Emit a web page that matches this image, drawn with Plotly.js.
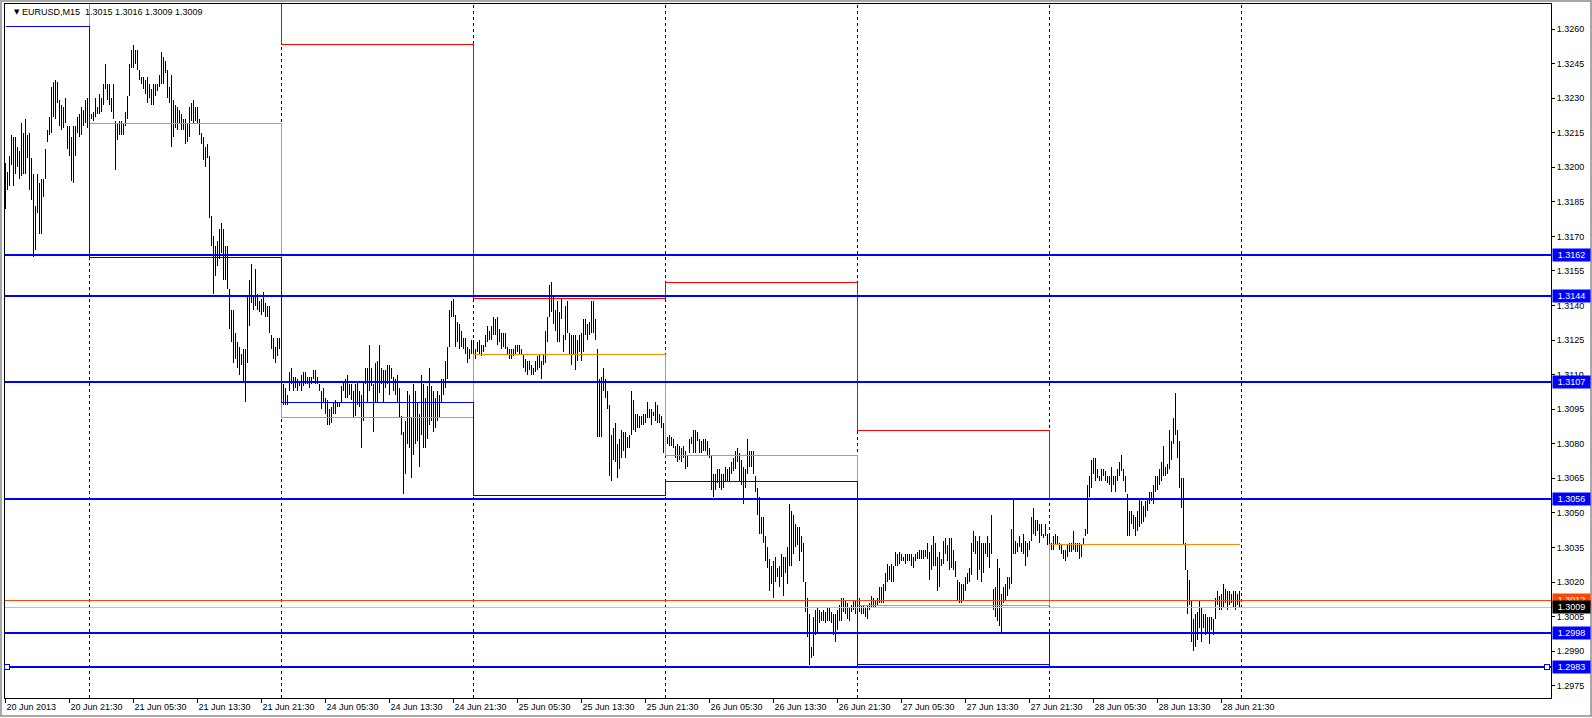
<!DOCTYPE html>
<html>
<head>
<meta charset="utf-8">
<script src="https://cdn.plot.ly/plotly-3.0.1.min.js"></script>
<style>
html,body{margin:0;padding:0;background:#fff;overflow:hidden;}
#chart{width:1592px;height:718px;}
#chart .scatterlayer path.js-line{shape-rendering:crispEdges;}
#chart .shapelayer path{shape-rendering:crispEdges;}
</style>
</head>
<body>
<div id="chart"></div>
<script>
// ---- data (EURUSD M15, one entry per bar) ----
const highs = [
1.3202,1.3198,1.3205,1.3214,1.3213,1.3213,1.3209,1.3207,1.3219,1.3215,
1.3221,1.3214,1.3215,1.3204,1.3197,1.3183,1.3197,1.3193,1.3195,1.3195,
1.3208,1.3216,1.3222,1.3235,1.3237,1.3238,1.3237,1.3229,1.3227,1.3226,
1.3230,1.3218,1.3218,1.3213,1.3218,1.3218,1.3222,1.3223,1.3226,1.3225,
1.3229,1.3230,1.3223,1.3223,1.3224,1.3230,1.3226,1.3232,1.3230,1.3236,
1.3245,1.3236,1.3236,1.3230,1.3236,1.3220,1.3219,1.3220,1.3220,1.3219,
1.3224,1.3231,1.3245,1.3251,1.3253,1.3251,1.3251,1.3242,1.3239,1.3239,
1.3238,1.3239,1.3236,1.3234,1.3236,1.3236,1.3236,1.3240,1.3250,1.3248,
1.3246,1.3242,1.3235,1.3240,1.3229,1.3227,1.3226,1.3225,1.3223,1.3221,
1.3221,1.3219,1.3226,1.3228,1.3229,1.3226,1.3226,1.3221,1.3215,1.3213,
1.3209,1.3210,1.3205,1.3179,1.3170,1.3166,1.3168,1.3173,1.3176,1.3173,
1.3166,1.3166,1.3147,1.3138,1.3138,1.3128,1.3124,1.3122,1.3119,1.3121,
1.3121,1.3144,1.3151,1.3158,1.3144,1.3156,1.3145,1.3142,1.3143,1.3146,
1.3141,1.3140,1.3140,1.3127,1.3126,1.3122,1.3126,1.3126,1.3124,1.3106,
1.3104,1.3101,1.3111,1.3113,1.3109,1.3109,1.3108,1.3107,1.3110,1.3111,
1.3111,1.3109,1.3109,1.3109,1.3112,1.3112,1.3109,1.3106,1.3103,1.3104,
1.3100,1.3099,1.3095,1.3096,1.3098,1.3099,1.3098,1.3098,1.3105,1.3107,
1.3108,1.3110,1.3106,1.3106,1.3103,1.3106,1.3107,1.3103,1.3101,1.3107,
1.3113,1.3113,1.3123,1.3113,1.3106,1.3115,1.3116,1.3123,1.3113,1.3112,
1.3112,1.3114,1.3114,1.3113,1.3109,1.3108,1.3110,1.3104,1.3092,1.3085,
1.3090,1.3103,1.3101,1.3091,1.3106,1.3103,1.3098,1.3093,1.3110,1.3106,
1.3100,1.3105,1.3113,1.3105,1.3103,1.3100,1.3103,1.3101,1.3108,1.3108,
1.3116,1.3122,1.3138,1.3142,1.3143,1.3136,1.3133,1.3132,1.3129,1.3126,
1.3126,1.3122,1.3121,1.3125,1.3125,1.3121,1.3124,1.3125,1.3123,1.3123,
1.3127,1.3131,1.3129,1.3131,1.3135,1.3134,1.3135,1.3130,1.3128,1.3128,
1.3128,1.3122,1.3121,1.3121,1.3121,1.3123,1.3123,1.3123,1.3121,1.3119,
1.3117,1.3116,1.3116,1.3114,1.3113,1.3116,1.3118,1.3119,1.3116,1.3119,
1.3129,1.3135,1.3149,1.3150,1.3144,1.3138,1.3142,1.3137,1.3143,1.3127,
1.3140,1.3142,1.3128,1.3127,1.3127,1.3127,1.3125,1.3127,1.3128,1.3134,
1.3134,1.3132,1.3133,1.3142,1.3142,1.3134,1.3121,1.3108,1.3109,1.3113,
1.3108,1.3103,1.3097,1.3084,1.3087,1.3089,1.3080,1.3082,1.3086,1.3085,
1.3085,1.3083,1.3084,1.3103,1.3099,1.3093,1.3093,1.3092,1.3092,1.3093,
1.3093,1.3098,1.3095,1.3095,1.3094,1.3098,1.3097,1.3093,1.3092,1.3089,
1.3086,1.3083,1.3084,1.3083,1.3082,1.3079,1.3080,1.3079,1.3078,1.3079,
1.3077,1.3075,1.3082,1.3083,1.3086,1.3086,1.3085,1.3082,1.3081,1.3082,
1.3082,1.3081,1.3078,1.3075,1.3067,1.3067,1.3069,1.3069,1.3067,1.3067,
1.3070,1.3069,1.3070,1.3072,1.3074,1.3077,1.3078,1.3076,1.3073,1.3070,
1.3069,1.3082,1.3077,1.3077,1.3077,1.3066,1.3061,1.3057,1.3048,1.3048,
1.3040,1.3035,1.3030,1.3027,1.3029,1.3031,1.3026,1.3027,1.3032,1.3031,
1.3031,1.3035,1.3054,1.3051,1.3049,1.3045,1.3044,1.3044,1.3040,1.3037,
1.3020,1.3013,1.3006,1.2992,1.3005,1.3008,1.3009,1.3008,1.3007,1.3008,
1.3007,1.3009,1.3009,1.3007,1.3006,1.3006,1.3008,1.3010,1.3013,1.3013,
1.3012,1.3011,1.3009,1.3010,1.3012,1.3012,1.3012,1.3013,1.3010,1.3010,
1.3009,1.3010,1.3011,1.3014,1.3013,1.3012,1.3013,1.3018,1.3018,1.3019,
1.3024,1.3028,1.3027,1.3028,1.3027,1.3033,1.3032,1.3033,1.3032,1.3031,
1.3032,1.3032,1.3032,1.3032,1.3031,1.3032,1.3033,1.3034,1.3034,1.3034,
1.3034,1.3037,1.3033,1.3036,1.3040,1.3037,1.3031,1.3033,1.3030,1.3038,
1.3039,1.3036,1.3039,1.3039,1.3034,1.3029,1.3021,1.3020,1.3019,1.3019,
1.3022,1.3024,1.3026,1.3037,1.3042,1.3040,1.3038,1.3040,1.3037,1.3037,
1.3037,1.3040,1.3037,1.3049,1.3017,1.3018,1.3030,1.3026,1.3015,1.3018,
1.3019,1.3022,1.3022,1.3043,1.3056,1.3038,1.3037,1.3040,1.3037,1.3041,
1.3038,1.3037,1.3038,1.3048,1.3052,1.3047,1.3047,1.3045,1.3045,1.3041,
1.3045,1.3041,1.3040,1.3037,1.3040,1.3041,1.3040,1.3037,1.3036,1.3034,
1.3034,1.3036,1.3037,1.3037,1.3042,1.3037,1.3037,1.3037,1.3036,1.3039,
1.3043,1.3062,1.3066,1.3073,1.3074,1.3074,1.3069,1.3066,1.3069,1.3069,
1.3068,1.3066,1.3066,1.3070,1.3066,1.3066,1.3069,1.3072,1.3075,1.3069,
1.3066,1.3058,1.3051,1.3051,1.3049,1.3048,1.3051,1.3056,1.3055,1.3053,
1.3055,1.3056,1.3059,1.3059,1.3062,1.3066,1.3066,1.3069,1.3072,1.3079,
1.3070,1.3071,1.3086,1.3081,1.3091,1.3102,1.3086,1.3081,1.3065,1.3065,
1.3037,1.3025,1.3021,1.3012,1.3004,1.3006,1.3007,1.3012,1.3009,1.3006,
1.3006,1.3005,1.3005,1.3005,1.3004,1.3013,1.3016,1.3014,1.3015,1.3019,
1.3017,1.3016,1.3016,1.3015,1.3016,1.3016,1.3015,1.3016
];
const lows = [
1.3182,1.3190,1.3192,1.3201,1.3192,1.3197,1.3200,1.3195,1.3196,1.3197,
1.3197,1.3204,1.3190,1.3186,1.3161,1.3164,1.3180,1.3171,1.3171,1.3187,
1.3195,1.3211,1.3214,1.3215,1.3222,1.3221,1.3228,1.3218,1.3216,1.3217,
1.3219,1.3208,1.3205,1.3194,1.3193,1.3205,1.3215,1.3213,1.3214,1.3218,
1.3219,1.3217,1.3219,1.3221,1.3220,1.3222,1.3223,1.3223,1.3224,1.3227,
1.3234,1.3229,1.3227,1.3224,1.3221,1.3199,1.3212,1.3214,1.3214,1.3214,
1.3218,1.3221,1.3231,1.3243,1.3243,1.3245,1.3242,1.3238,1.3236,1.3234,
1.3232,1.3228,1.3230,1.3227,1.3227,1.3231,1.3233,1.3235,1.3236,1.3236,
1.3241,1.3230,1.3228,1.3209,1.3213,1.3217,1.3216,1.3219,1.3216,1.3216,
1.3210,1.3211,1.3213,1.3220,1.3219,1.3220,1.3219,1.3214,1.3210,1.3203,
1.3200,1.3204,1.3178,1.3166,1.3145,1.3153,1.3157,1.3160,1.3163,1.3151,
1.3151,1.3147,1.3130,1.3124,1.3115,1.3117,1.3113,1.3110,1.3114,1.3107,
1.3098,1.3115,1.3131,1.3141,1.3138,1.3140,1.3138,1.3137,1.3136,1.3137,
1.3135,1.3135,1.3128,1.3121,1.3117,1.3115,1.3118,1.3121,1.3112,1.3097,
1.3097,1.3097,1.3103,1.3106,1.3103,1.3104,1.3103,1.3105,1.3103,1.3105,
1.3106,1.3106,1.3104,1.3106,1.3108,1.3106,1.3106,1.3103,1.3095,1.3098,
1.3093,1.3088,1.3088,1.3089,1.3093,1.3093,1.3096,1.3096,1.3098,1.3103,
1.3100,1.3100,1.3101,1.3099,1.3091,1.3092,1.3097,1.3096,1.3078,1.3090,
1.3106,1.3098,1.3103,1.3105,1.3085,1.3098,1.3098,1.3102,1.3106,1.3098,
1.3104,1.3106,1.3101,1.3108,1.3103,1.3101,1.3098,1.3091,1.3084,1.3058,
1.3067,1.3080,1.3078,1.3065,1.3075,1.3080,1.3081,1.3070,1.3084,1.3078,
1.3078,1.3082,1.3088,1.3090,1.3085,1.3087,1.3090,1.3091,1.3098,1.3101,
1.3104,1.3108,1.3122,1.3135,1.3135,1.3122,1.3124,1.3121,1.3122,1.3121,
1.3119,1.3115,1.3117,1.3119,1.3119,1.3117,1.3120,1.3119,1.3118,1.3120,
1.3122,1.3124,1.3125,1.3125,1.3127,1.3127,1.3123,1.3124,1.3121,1.3122,
1.3121,1.3119,1.3117,1.3117,1.3118,1.3119,1.3120,1.3119,1.3119,1.3113,
1.3111,1.3110,1.3112,1.3110,1.3110,1.3111,1.3112,1.3113,1.3108,1.3114,
1.3115,1.3124,1.3135,1.3137,1.3132,1.3129,1.3124,1.3124,1.3134,1.3120,
1.3125,1.3128,1.3119,1.3114,1.3119,1.3112,1.3116,1.3120,1.3116,1.3120,
1.3127,1.3125,1.3127,1.3128,1.3128,1.3125,1.3083,1.3083,1.3083,1.3103,
1.3100,1.3095,1.3066,1.3064,1.3073,1.3072,1.3065,1.3069,1.3074,1.3077,
1.3074,1.3078,1.3078,1.3084,1.3086,1.3085,1.3087,1.3087,1.3088,1.3088,
1.3089,1.3091,1.3091,1.3088,1.3092,1.3090,1.3089,1.3089,1.3087,1.3076,
1.3080,1.3080,1.3079,1.3079,1.3078,1.3074,1.3072,1.3073,1.3072,1.3074,
1.3069,1.3070,1.3076,1.3080,1.3076,1.3076,1.3081,1.3076,1.3076,1.3077,
1.3077,1.3075,1.3074,1.3060,1.3057,1.3060,1.3063,1.3061,1.3060,1.3061,
1.3064,1.3064,1.3064,1.3067,1.3068,1.3069,1.3072,1.3064,1.3062,1.3054,
1.3061,1.3067,1.3070,1.3070,1.3067,1.3059,1.3049,1.3041,1.3041,1.3037,
1.3029,1.3026,1.3016,1.3019,1.3013,1.3020,1.3022,1.3018,1.3022,1.3014,
1.3024,1.3019,1.3027,1.3027,1.3032,1.3035,1.3036,1.3029,1.3033,1.3020,
1.3007,1.2996,1.2984,1.2987,1.2988,1.2997,1.2998,1.3002,1.3003,1.3003,
1.3002,1.3003,1.3003,1.3002,1.2997,1.2994,1.2999,1.3003,1.3003,1.3007,
1.3006,1.3004,1.3003,1.3007,1.3008,1.3006,1.3007,1.3007,1.3006,1.3006,
1.3005,1.3004,1.3008,1.3009,1.3009,1.3009,1.3010,1.3011,1.3011,1.3011,
1.3016,1.3020,1.3021,1.3020,1.3020,1.3027,1.3027,1.3028,1.3029,1.3029,
1.3028,1.3029,1.3029,1.3027,1.3026,1.3029,1.3030,1.3030,1.3030,1.3030,
1.3031,1.3030,1.3021,1.3025,1.3027,1.3027,1.3016,1.3018,1.3027,1.3028,
1.3032,1.3029,1.3025,1.3026,1.3025,1.3022,1.3012,1.3011,1.3011,1.3012,
1.3016,1.3019,1.3020,1.3023,1.3033,1.3032,1.3021,1.3025,1.3020,1.3024,
1.3032,1.3031,1.3026,1.3032,1.3008,1.3005,1.3003,1.3001,1.2998,1.3011,
1.3012,1.3014,1.3017,1.3019,1.3032,1.3032,1.3033,1.3035,1.3033,1.3032,
1.3027,1.3031,1.3034,1.3038,1.3041,1.3040,1.3042,1.3037,1.3040,1.3039,
1.3040,1.3036,1.3035,1.3034,1.3034,1.3036,1.3036,1.3034,1.3032,1.3030,
1.3029,1.3031,1.3033,1.3033,1.3034,1.3033,1.3033,1.3030,1.3031,1.3036,
1.3040,1.3041,1.3057,1.3061,1.3067,1.3064,1.3065,1.3064,1.3064,1.3066,
1.3064,1.3063,1.3062,1.3059,1.3062,1.3059,1.3064,1.3066,1.3068,1.3064,
1.3059,1.3040,1.3040,1.3045,1.3043,1.3040,1.3042,1.3044,1.3045,1.3046,
1.3048,1.3051,1.3054,1.3055,1.3054,1.3059,1.3060,1.3062,1.3064,1.3066,
1.3066,1.3067,1.3069,1.3073,1.3080,1.3084,1.3074,1.3061,1.3052,1.3036,
1.3025,1.3006,1.3010,1.2994,1.2990,1.2992,1.2995,1.3000,1.2994,1.3000,
1.2997,1.2998,1.2993,1.2999,1.2997,1.3004,1.3010,1.3008,1.3008,1.3009,
1.3011,1.3008,1.3010,1.3011,1.3009,1.3008,1.3010,1.3009
];
const lastOHLC = [1.3015, 1.3016, 1.3009, 1.3009];

// daily reference lines (value valid from the first bar of each day)
const dayStart  = [0, 42, 138, 234, 330, 426, 522];
const prevHigh  = [null, 1.3290, 1.32534, 1.31431, 1.31501, 1.30858, 1.30560];
const prevClose = [1.3275, 1.32191, 1.30912, 1.31188, 1.30751, 1.30100, 1.30361];
const prevLow   = [1.32613, 1.31609, 1.30980, 1.30576, 1.30637, 1.29840, 1.29982];

// horizontal levels and price lines
const levels   = [1.3162, 1.3144, 1.3107, 1.3056, 1.2998, 1.2983];
const askPrice = 1.3012;
const bidPrice = 1.3009;

// period separators (bar index of each day start)
const separators = [42, 138, 234, 330, 426, 522, 618];

// axis ticks
const xTickIdx  = [0,32,64,96,128,160,192,224,256,288,320,352,384,416,448,480,512,544,576,608];
const xTickText = ["20 Jun 2013","20 Jun 21:30","21 Jun 05:30","21 Jun 13:30","21 Jun 21:30",
  "24 Jun 05:30","24 Jun 13:30","24 Jun 21:30","25 Jun 05:30","25 Jun 13:30","25 Jun 21:30",
  "26 Jun 05:30","26 Jun 13:30","26 Jun 21:30","27 Jun 05:30","27 Jun 13:30","27 Jun 21:30",
  "28 Jun 05:30","28 Jun 13:30","28 Jun 21:30"];
const yTicks = [1.2975,1.2990,1.3005,1.3020,1.3035,1.3050,1.3065,1.3080,1.3095,1.3110,
  1.3125,1.3140,1.3155,1.3170,1.3185,1.3200,1.3215,1.3230,1.3245,1.3260];

// ---- build traces ----
const FONT = "Liberation Sans, Arial, sans-serif";
const bx = [], by = [];
for (let i = 0; i < highs.length; i++) {
  bx.push(i, i, null);
  by.push(lows[i], highs[i], null);
}
const lastBar = highs.length - 1;
function stepTrace(vals, color) {
  return {
    type: 'scatter', mode: 'lines',
    x: dayStart.concat([lastBar]),
    y: vals.concat([vals[vals.length - 1]]),
    line: {shape: 'hv', color: color, width: 1},
    hoverinfo: 'skip', connectgaps: false
  };
}
const traces = [
  {type: 'scatter', mode: 'lines', x: bx, y: by,
   line: {color: '#000000', width: 1}, hoverinfo: 'skip'},
  stepTrace(prevHigh, '#FF0000'),
  stepTrace(prevClose, '#FF8C00'),
  stepTrace(prevLow, '#0000FF')
];

const shapes = [];
separators.forEach(s => shapes.push({
  type: 'line', xref: 'x', yref: 'paper', x0: s, x1: s, y0: 0, y1: 1, layer: 'below',
  line: {color: '#000000', width: 1, dash: '3px,3px'}
}));
shapes.push({type: 'line', xref: 'paper', yref: 'y', x0: 0, x1: 1, y0: askPrice, y1: askPrice,
  layer: 'above', line: {color: '#FF4500', width: 1}});
shapes.push({type: 'line', xref: 'paper', yref: 'y', x0: 0, x1: 1, y0: bidPrice, y1: bidPrice,
  layer: 'above', line: {color: '#C0C0C0', width: 1}});
levels.forEach(v => shapes.push({
  type: 'line', xref: 'paper', yref: 'y', x0: 0, x1: 1, y0: v, y1: v, layer: 'above',
  line: {color: '#0000FF', width: 2}
}));
// selection handles on the last level
[0.001, 0.9974].forEach(ax => shapes.push({
  type: 'rect', xref: 'paper', yref: 'y', xsizemode: 'pixel', ysizemode: 'pixel',
  xanchor: ax, yanchor: levels[levels.length - 1], x0: -2.5, x1: 2.5, y0: -2.5, y1: 2.5,
  layer: 'above', fillcolor: '#FFFFFF', line: {color: '#0000FF', width: 1}
}));
// window frame
shapes.push({type: 'rect', xref: 'paper', yref: 'paper',
  x0: -0.0026, x1: 1.0259, y0: -0.0262, y1: 1.0050,
  line: {color: '#A8A8A8', width: 2}, fillcolor: 'rgba(0,0,0,0)', layer: 'above'});

const annotations = [];
function priceTag(v, bg) {
  annotations.push({
    xref: 'paper', x: 1, xanchor: 'left', xshift: 1, yref: 'y', y: v, yanchor: 'middle',
    text: v.toFixed(4), showarrow: false, bgcolor: bg, borderpad: 1, width: 35, height: 10,
    font: {family: FONT, size: 9, color: '#FFFFFF'}
  });
}
levels.forEach(v => priceTag(v, '#0000FF'));
priceTag(askPrice, '#FF4500');
priceTag(bidPrice, '#000000');
annotations.push({
  xref: 'paper', yref: 'paper', x: 0.0045, y: 0.9878, xanchor: 'left', yanchor: 'middle',
  text: '▼', showarrow: false, font: {family: 'DejaVu Sans', size: 7, color: '#000'}
});
annotations.push({
  xref: 'paper', yref: 'paper', x: 0.0097, y: 0.9878, xanchor: 'left', yanchor: 'middle',
  text: 'EURUSD,M15\u00A0\u00A0' + lastOHLC.map(v => v.toFixed(4)).join(' '),
  showarrow: false, font: {family: FONT, size: 9, color: '#000'}
});

const layout = {
  width: 1592, height: 718,
  margin: {l: 5, r: 41, t: 4, b: 20, pad: 0},
  paper_bgcolor: '#FFFFFF', plot_bgcolor: '#FFFFFF',
  showlegend: false, hovermode: false,
  xaxis: {
    range: [-0.25, 772.75], showgrid: false, zeroline: false,
    showline: true, mirror: true, linecolor: '#000', linewidth: 1,
    ticks: 'outside', ticklen: 4, tickcolor: '#000', tickwidth: 1,
    tickvals: xTickIdx, ticktext: xTickText, ticklabelposition: 'outside right',
    tickfont: {family: FONT, size: 9, color: '#000'}, fixedrange: true
  },
  yaxis: {
    side: 'right', range: [1.296966, 1.327085], showgrid: false, zeroline: false,
    showline: true, mirror: true, linecolor: '#000', linewidth: 1,
    ticks: 'outside', ticklen: 3, tickcolor: '#000', tickwidth: 1,
    tickvals: yTicks, ticktext: yTicks.map(v => v.toFixed(4)),
    tickfont: {family: FONT, size: 9, color: '#000'}, fixedrange: true
  },
  shapes: shapes,
  annotations: annotations
};

Plotly.newPlot('chart', traces, layout, {displayModeBar: false, staticPlot: true});
</script>
</body>
</html>
